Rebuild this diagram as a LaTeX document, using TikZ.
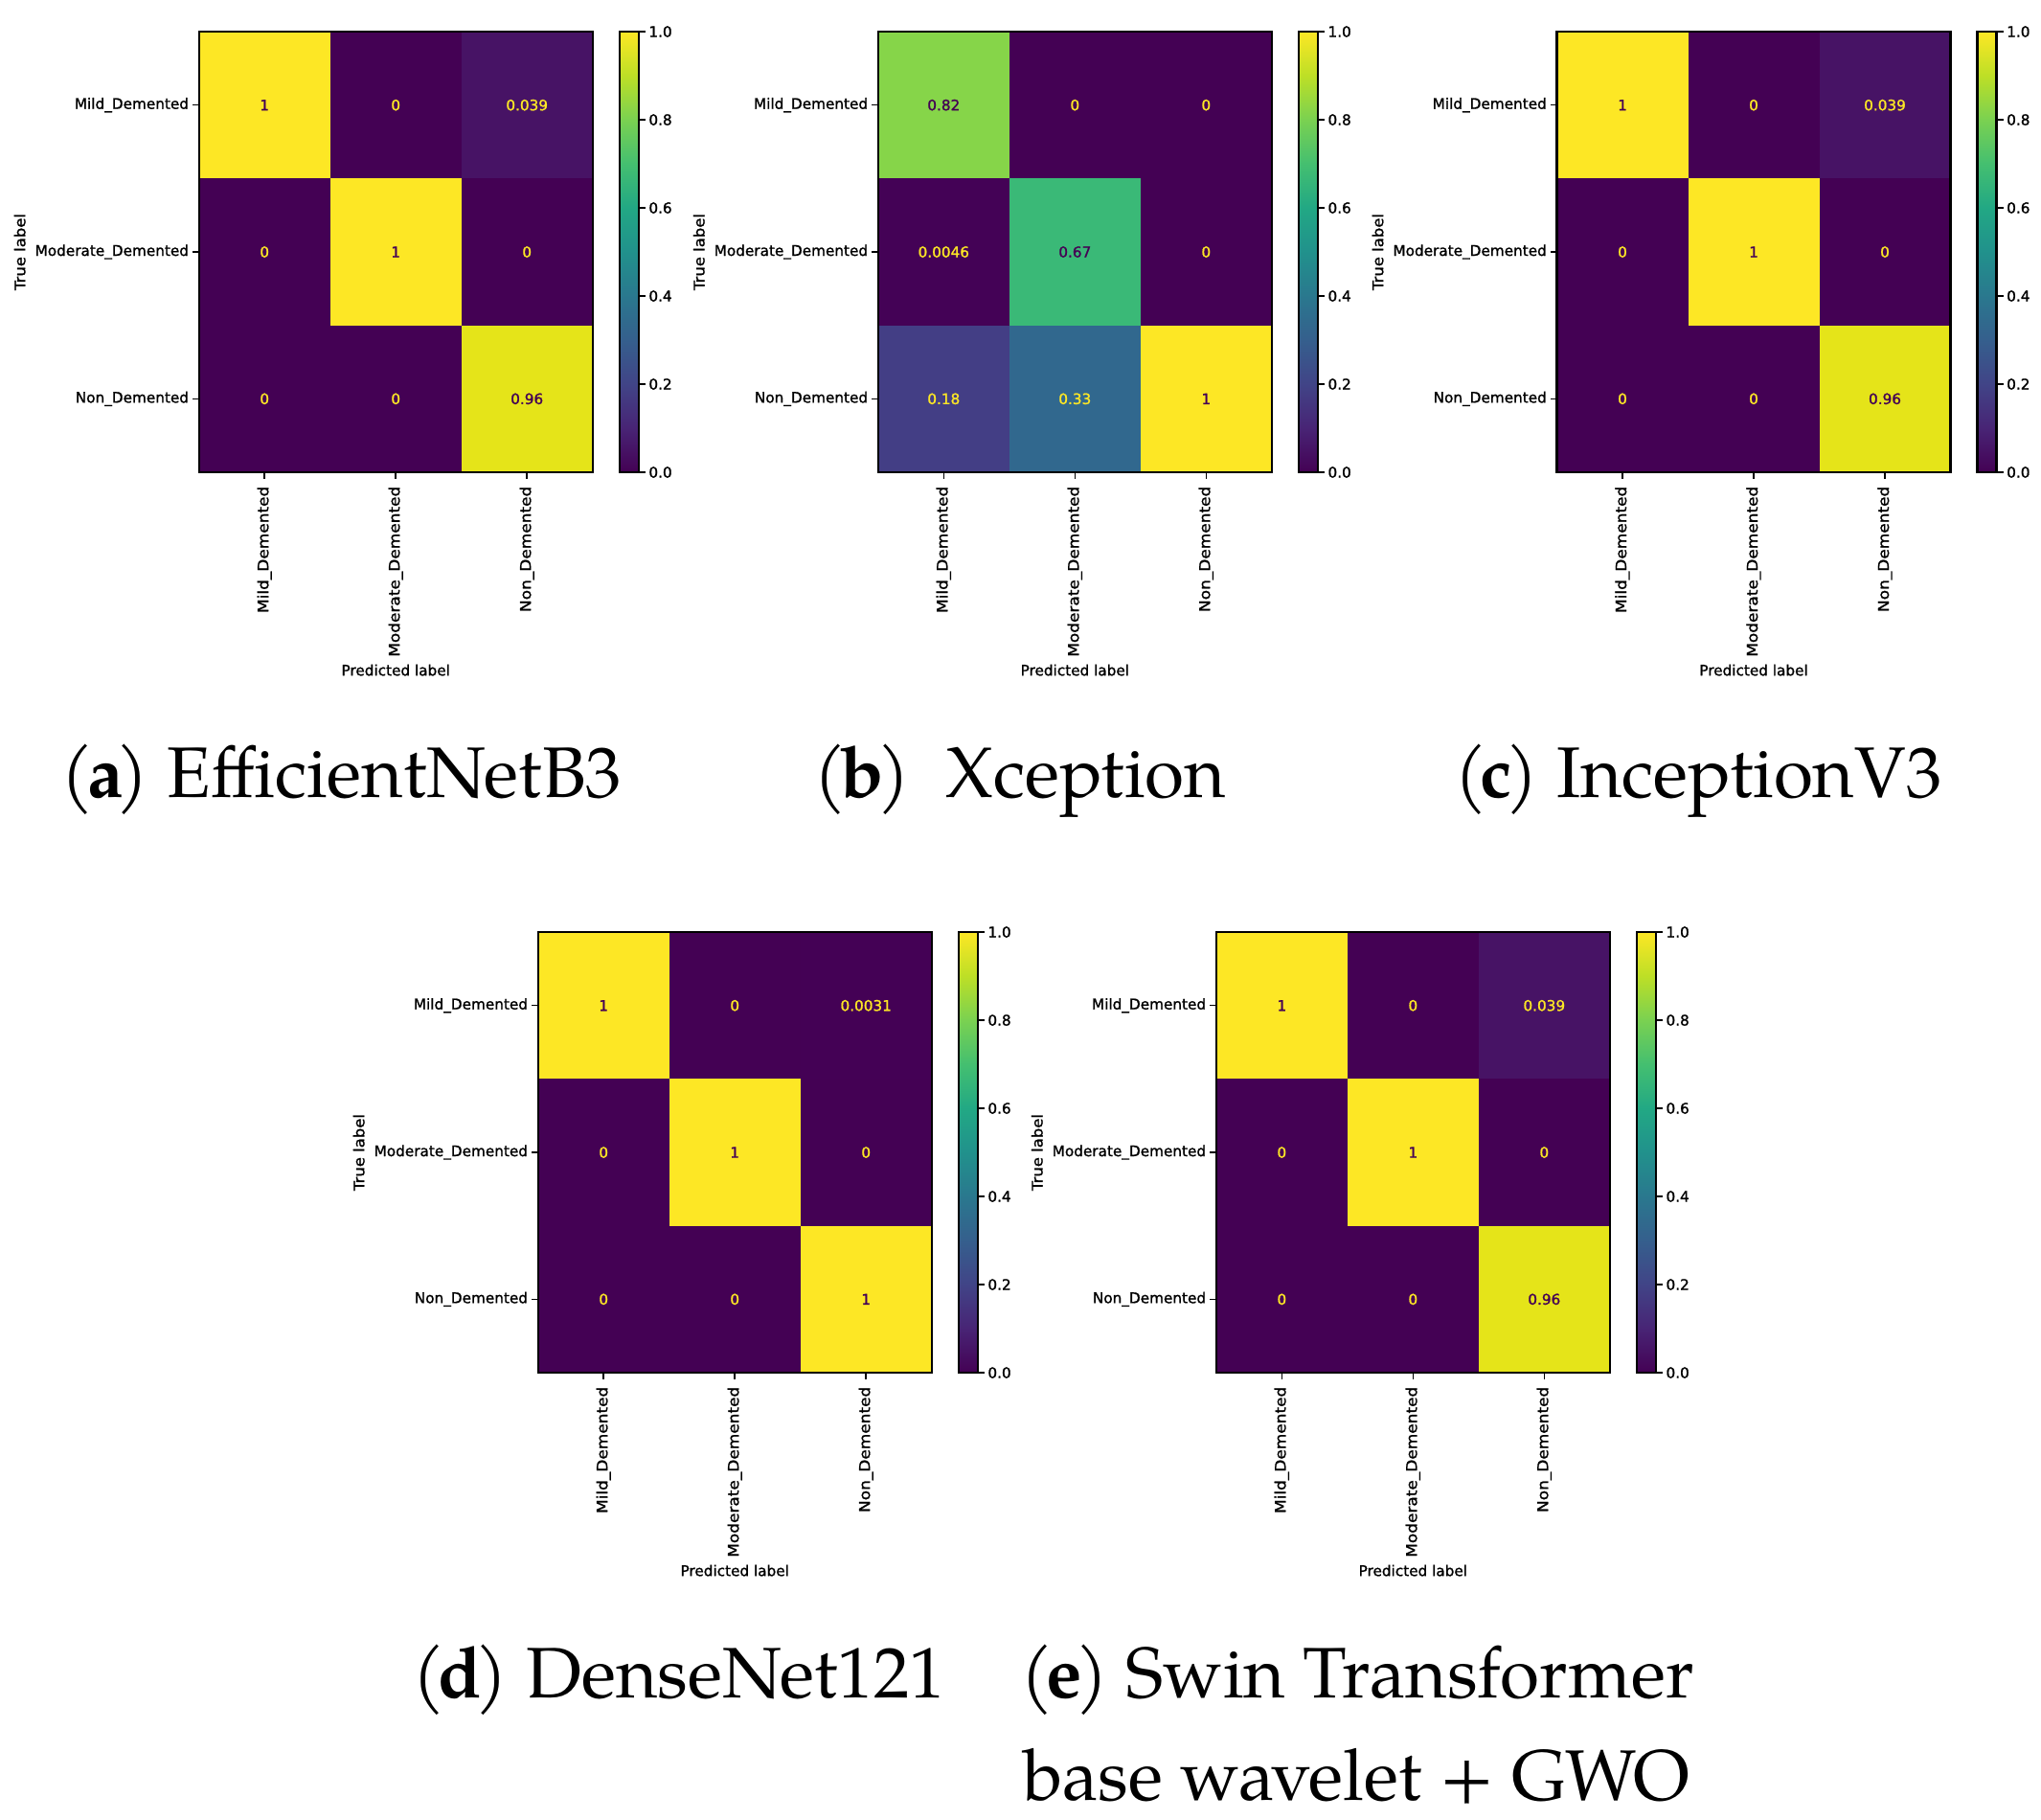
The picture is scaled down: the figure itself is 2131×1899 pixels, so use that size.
\documentclass[tikz,border=0pt]{standalone}
\usepackage{graphicx}
\usepackage{fontspec}
\newfontfamily\mplfont[FakeBold=1.2]{DejaVu Sans}
\newfontfamily\capfont{TeX Gyre Pagella}
\definecolor{vs0}{HTML}{440154}
\definecolor{vs1}{HTML}{482475}
\definecolor{vs2}{HTML}{414487}
\definecolor{vs3}{HTML}{355F8D}
\definecolor{vs4}{HTML}{2A788E}
\definecolor{vs5}{HTML}{21918C}
\definecolor{vs6}{HTML}{22A884}
\definecolor{vs7}{HTML}{44BF70}
\definecolor{vs8}{HTML}{7AD151}
\definecolor{vs9}{HTML}{BDDF26}
\definecolor{vs10}{HTML}{FDE725}
\definecolor{vlo}{HTML}{440154}
\definecolor{vhi}{HTML}{FDE725}
\definecolor{cone}{HTML}{FDE725}
\definecolor{czero}{HTML}{440154}
\definecolor{cA}{HTML}{471365}
\definecolor{cB}{HTML}{E5E419}
\definecolor{cE}{HTML}{86D549}
\definecolor{cF}{HTML}{3AB977}
\definecolor{cG}{HTML}{31688E}
\definecolor{cH}{HTML}{433E85}
\definecolor{cI}{HTML}{440256}
\definecolor{cJ}{HTML}{440155}
\pgfdeclareverticalshading{viridis}{100bp}{color(0bp)=(vs0); color(25bp)=(vs0); color(30bp)=(vs1); color(35bp)=(vs2); color(40bp)=(vs3); color(45bp)=(vs4); color(50bp)=(vs5); color(55bp)=(vs6); color(60bp)=(vs7); color(65bp)=(vs8); color(70bp)=(vs9); color(75bp)=(vs10); color(100bp)=(vs10)}
\tikzset{
  frame/.style={draw=black, line width=0.65pt},
  tickline/.style={black, line width=0.45pt},
  ticklab/.style={font=\mplfont\fontsize{4.34}{5}\selectfont, inner sep=0pt},
  celltxt/.style={font=\mplfont\fontsize{4.34}{5}\selectfont, inner sep=0pt},
  captxt/.style={font=\capfont\fontsize{21.25}{25}\selectfont, inner sep=0pt}
}
\newcommand\sublab[1]{(\kern-0.09em\textbf{#1}\kern-0.09em)}
\newcommand\cmpanel[4]{%
\begin{scope}[shift={(#1,#2)}]
\foreach \v/\fc/\tc [count=\i from 0] in {#4}{%
  \pgfmathtruncatemacro\rr{floor(\i/3)}%
  \pgfmathtruncatemacro\cc{mod(\i,3)}%
  \fill[\fc] (\cc*137,\rr*153.333) rectangle ++(137,153.333);
  \node[celltxt,text=\tc] (#3c\i) at (\cc*137+68.5,\rr*153.333+76.667) {\v};
}
\draw[frame] (0,0) rectangle (411,460);
\foreach \lab [count=\k from 0] in {Mild\_Demented,Moderate\_Demented,Non\_Demented}{%
  \draw[tickline] (0,\k*153.333+76.667) -- ++(-7,0);
  \node[ticklab,anchor=east] (#3y\k) at (-10,\k*153.333+76.667) {\lab};
  \draw[tickline] (\k*137+68.5,460) -- ++(0,7);
  \node[ticklab,rotate=90,anchor=east] (#3x\k) at (\k*137+68.5,474) {\scalebox{1.11}[1]{\lab}};
}
\node[ticklab,rotate=90] (#3ty) at (-187,230) {\scalebox{1.08}[1]{True label}};
\node[ticklab] (#3px) at (205.5,666.5) {Predicted label};
\shade[shading=viridis] (439,0) rectangle (459,460);
\draw[frame] (439,0) rectangle (459,460);
\foreach \lab [count=\k from 0] in {0.0,0.2,0.4,0.6,0.8,1.0}{%
  \draw[tickline] (459,460-\k*92) -- ++(7,0);
  \node[ticklab,anchor=west] (#3cb\k) at (469,460-\k*92) {\lab};
}
\end{scope}}
\begin{document}
\begin{tikzpicture}[x=0.01cm,y=-0.01cm]
\useasboundingbox (0,0) rectangle (2131,1899);
\fill[white] (0,0) rectangle (2131,1899);
\cmpanel{207.7}{33}{a}{1/cone/vlo,0/czero/vhi,0.039/cA/vhi,0/czero/vhi,1/cone/vlo,0/czero/vhi,0/czero/vhi,0/czero/vhi,0.96/cB/vlo}
\cmpanel{916.8}{33}{b}{0.82/cE/vlo,0/czero/vhi,0/czero/vhi,0.0046/cI/vhi,0.67/cF/vlo,0/czero/vhi,0.18/cH/vhi,0.33/cG/vhi,1/cone/vlo}
\cmpanel{1625.5}{33}{c}{1/cone/vlo,0/czero/vhi,0.039/cA/vhi,0/czero/vhi,1/cone/vlo,0/czero/vhi,0/czero/vhi,0/czero/vhi,0.96/cB/vlo}
\cmpanel{561.7}{973}{d}{1/cone/vlo,0/czero/vhi,0.0031/cJ/vhi,0/czero/vhi,1/cone/vlo,0/czero/vhi,0/czero/vhi,0/czero/vhi,1/cone/vlo}
\cmpanel{1269.8}{973}{e}{1/cone/vlo,0/czero/vhi,0.039/cA/vhi,0/czero/vhi,1/cone/vlo,0/czero/vhi,0/czero/vhi,0/czero/vhi,0.96/cB/vlo}
\node[captxt,anchor=base] (capa) at (356.5,832.3) {\sublab{a} EfficientNetB3};
\node[captxt,anchor=base] (capb) at (1065,832.3) {\sublab{b}~ Xception};
\node[captxt,anchor=base] (capc) at (1773,832.3) {\sublab{c} InceptionV3};
\node[captxt,anchor=base] (capd) at (708.7,1772.7) {\sublab{d} DenseNet121};
\node[captxt,anchor=base] (cape1) at (1417,1772.7) {\sublab{e} Swin Transformer};
\node[captxt,anchor=base] (cape2) at (1416,1879) {base wavelet + GWO};
\end{tikzpicture}
\end{document}
